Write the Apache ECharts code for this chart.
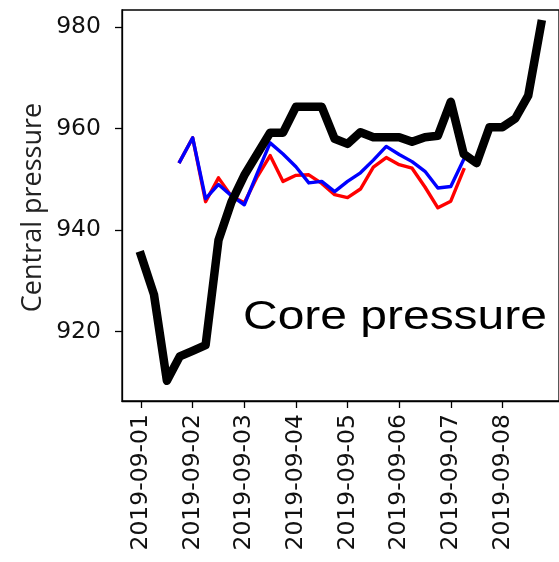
<!DOCTYPE html>
<html>
<head>
<meta charset="utf-8">
<script src="https://cdn.jsdelivr.net/npm/echarts@6/dist/echarts.min.js"></script>
<style>
  html, body { margin: 0; padding: 0; background: #fff; }
  #chart { width: 559px; height: 562px; }
</style>
</head>
<body>
<div id="chart"></div>
<script>
// 6-hourly analysis times
const times = [
  '2019-09-01T00:00Z', '2019-09-01T06:00Z', '2019-09-01T12:00Z', '2019-09-01T18:00Z',
  '2019-09-02T00:00Z', '2019-09-02T06:00Z', '2019-09-02T12:00Z', '2019-09-02T18:00Z',
  '2019-09-03T00:00Z', '2019-09-03T06:00Z', '2019-09-03T12:00Z', '2019-09-03T18:00Z',
  '2019-09-04T00:00Z', '2019-09-04T06:00Z', '2019-09-04T12:00Z', '2019-09-04T18:00Z',
  '2019-09-05T00:00Z', '2019-09-05T06:00Z', '2019-09-05T12:00Z', '2019-09-05T18:00Z',
  '2019-09-06T00:00Z', '2019-09-06T06:00Z', '2019-09-06T12:00Z', '2019-09-06T18:00Z',
  '2019-09-07T00:00Z', '2019-09-07T06:00Z', '2019-09-07T12:00Z', '2019-09-07T18:00Z',
  '2019-09-08T00:00Z', '2019-09-08T06:00Z', '2019-09-08T12:00Z', '2019-09-08T18:00Z'
];

// observed central pressure (hPa)
const observed = [
  935.0, 927.3, 910.3, 915.1, 916.2, 917.3, 938.0, 945.5,
  950.8, 955.0, 959.2, 959.2, 964.3, 964.3, 964.3, 958.0,
  957.0, 959.3, 958.3, 958.3, 958.3, 957.4, 958.3, 958.6,
  965.3, 955.0, 953.2, 960.3, 960.3, 962.0, 966.5, 980.6
];

// forecast run A (red)
const forecastRed = [
  null, null, null, 953.5, 958.2, 945.6, 950.3, 946.7,
  945.4, 950.5, 954.7, 949.6, 950.8, 950.9, 949.2, 947.0,
  946.4, 948.1, 952.4, 954.3, 952.9, 952.2, 948.5, 944.4,
  945.7, 951.9, null, null, null, null, null, null
];

// forecast run B (blue)
const forecastBlue = [
  null, null, null, 953.5, 958.2, 946.2, 949.0, 946.8,
  945.0, 951.2, 957.2, 955.0, 952.5, 949.3, 949.6, 947.6,
  949.6, 951.3, 953.8, 956.5, 954.9, 953.5, 951.6, 948.3,
  948.6, 953.9, null, null, null, null, null, null
];

const dayTicks = [
  '2019-09-01', '2019-09-02', '2019-09-03', '2019-09-04',
  '2019-09-05', '2019-09-06', '2019-09-07', '2019-09-08'
];
const pressureTicks = [920, 940, 960, 980];

const DAY = 86400000;
const t0 = Date.parse(dayTicks[0] + 'T00:00Z');
const toPairs = vals => times.map((t, i) => [Date.parse(t), vals[i]]);

// plot geometry
const gridLeft = 122, gridRight = -10, gridTop = 10, gridBottom = 161;
const pxPerDay = 52.8;
const plotWidth = 559 - gridLeft - gridRight;
const xMin = t0 - (141.5 - gridLeft) / pxPerDay * DAY;
const xMax = xMin + plotWidth / pxPerDay * DAY;

const chart = echarts.init(document.getElementById('chart'), null, { renderer: 'canvas' });

const lineSeries = (name, vals, color, width) => ({
  name,
  type: 'line',
  data: toPairs(vals),
  showSymbol: false,
  symbol: 'none',
  connectNulls: false,
  clip: true,
  lineStyle: { color, width, cap: 'square', join: 'round' },
  emphasis: { disabled: true }
});

chart.setOption({
  animation: false,
  backgroundColor: '#ffffff',
  grid: {
    left: gridLeft, right: gridRight, top: gridTop, bottom: gridBottom,
    show: true, borderColor: '#000', borderWidth: 1.3, backgroundColor: 'transparent'
  },
  xAxis: {
    type: 'value',
    min: xMin,
    max: xMax,
    splitLine: { show: false },
    axisLine: { show: true, lineStyle: { color: '#000', width: 1.3 } },
    axisTick: {
      show: true, length: 7, inside: false,
      lineStyle: { color: '#000', width: 1.3 },
      customValues: dayTicks.map(d => Date.parse(d + 'T00:00Z'))
    },
    axisLabel: {
      rotate: 90,
      margin: 13,
      color: '#111',
      fontFamily: 'DejaVu Sans',
      fontSize: 23.5,
      customValues: dayTicks.map(d => Date.parse(d + 'T00:00Z')),
      formatter: v => new Date(v).toISOString().slice(0, 10)
    }
  },
  yAxis: {
    type: 'value',
    min: 906.3,
    max: 983.4,
    splitLine: { show: false },
    axisLine: { show: true, lineStyle: { color: '#000', width: 1.3 } },
    axisTick: {
      show: true, length: 7, inside: false,
      lineStyle: { color: '#000', width: 1.3 },
      customValues: pressureTicks
    },
    axisLabel: {
      margin: 21,
      color: '#111',
      fontFamily: 'DejaVu Sans',
      fontSize: 23.5,
      customValues: pressureTicks
    }
  },
  graphic: [
    {
      type: 'text',
      x: 33, y: 207.5,
      rotation: Math.PI / 2,
      style: {
        text: 'Central pressure',
        font: '27px "Open Sans"',
        fill: '#222',
        textAlign: 'center',
        textVerticalAlign: 'middle'
      },
      silent: true
    },
    {
      type: 'text',
      x: 243, y: 318,
      scaleX: 1.17,
      z: 100,
      style: {
        text: 'Core pressure',
        font: '41px "Liberation Sans"',
        fill: '#000',
        textAlign: 'left',
        textVerticalAlign: 'middle'
      },
      silent: true
    }
  ],
  series: [
    lineSeries('forecast A', forecastRed, '#ff0000', 3.4),
    lineSeries('forecast B', forecastBlue, '#0000ff', 3.4),
    lineSeries('observed', observed, '#000000', 8.5)
  ]
});
</script>
</body>
</html>
